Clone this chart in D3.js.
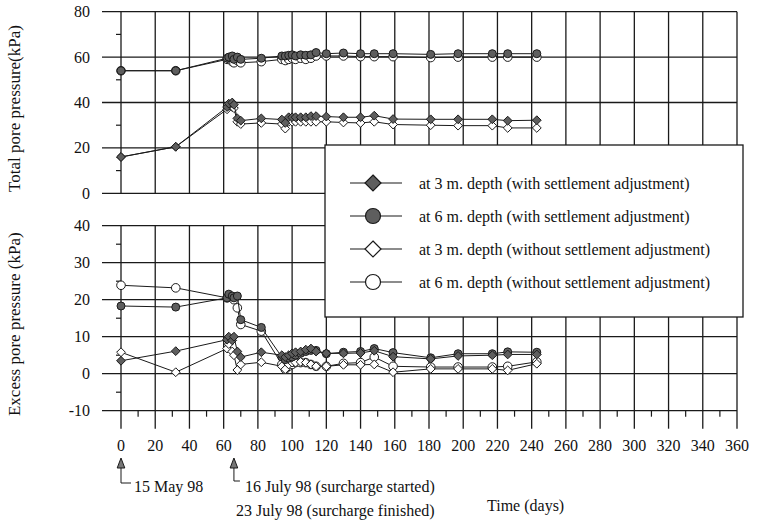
<!DOCTYPE html>
<html>
<head>
<meta charset="utf-8">
<script src="https://cdn.jsdelivr.net/npm/d3@7"></script>
<style>
  html, body { margin: 0; padding: 0; background: #fff; }
  svg { display: block; }
  text { font-family: "Liberation Serif", "Times New Roman", serif; fill: #111; }
</style>
</head>
<body>
<svg id="chart" width="762" height="524"></svg>
<script>
// Measurement days (days after 15 May 98)
const days = [0, 32, 62, 63, 65, 66, 68, 70, 82, 94, 96, 98, 100, 102, 105, 108, 111, 114, 120, 130, 140, 148, 159, 181, 197, 217, 226, 243];

// Total pore pressure (kPa)
const total3mWith    = [16, 20.5, 38, 39.5, 40, 39, 33, 32, 33, 32.5, 31, 33.5, 33.5, 33.5, 33.5, 33.5, 34, 34, 33.8, 33.5, 33.5, 34.2, 32.7, 32.6, 32.6, 32.6, 32, 32.2];
const total6mWith    = [54, 54, 59.5, 60, 60.5, 59, 60, 59, 59.5, 60.5, 60.5, 60.8, 61, 60.5, 61, 60.8, 61, 62, 61.5, 61.8, 61.5, 61.5, 61.5, 61.2, 61.5, 61.5, 61.5, 61.5];
const total3mWithout = [16, 20.5, 37, 38.5, 38, 37.5, 31.5, 30.5, 31, 30.5, 28.5, 31.5, 31.5, 31.5, 31.5, 31.5, 31.5, 31.5, 31.5, 31.2, 31, 31.5, 30.3, 30, 29.8, 29.8, 28.8, 28.8];
const total6mWithout = [54, 54, 59, 59.5, 58, 57.5, 58.5, 57.5, 58, 59, 58.5, 59, 59.5, 59, 59.5, 59, 59.5, 60.5, 60.5, 60.5, 60.2, 60.2, 60.2, 59.8, 60, 60, 60, 60];

// Excess pore pressure (kPa)
const excess3mWith    = [3.5, 6.1, 9.2, 10, 9, 10, 6, 4.5, 5.8, 5, 4.5, 5, 5.5, 5.8, 6, 6.5, 6.8, 6, 5.5, 5.5, 5.6, 6.2, 4.6, 4, 4.8, 5, 5.2, 5.2];
const excess6mWith    = [18.3, 18, 20.5, 21.5, 21, 20.5, 21, 14.6, 12.5, 4.5, 3.8, 4.2, 4.5, 5, 5.5, 6, 6.3, 6.3, 5.4, 5.8, 6, 6.8, 5.7, 4.3, 5.4, 5.4, 5.9, 5.8];
const excess3mWithout = [5.8, 0.4, 6.8, 8, 6, 5, 1, 2.5, 3.1, 2, 1.2, 2.5, 3, 3, 3.2, 3, 2.5, 2, 2, 2.4, 2.4, 2.5, 0.4, 1.3, 1.3, 1.3, 0.9, 2.7];
const excess6mWithout = [23.9, 23.2, 20.5, 21, 20.5, 20, 17.8, 13.3, 11.5, 2.5, 1.2, 2, 2.5, 3, 3, 3, 2.5, 2, 2, 2.8, 3, 4.5, 2, 1.8, 1.8, 1.8, 2, 3.2];

// Axis ticks
const xTicks = d3.range(0, 361, 20);
const xMinorTicks = d3.range(10, 360, 20);
const topTicks = [0, 20, 40, 60, 80];
const topMinorTicks = [10, 30, 50, 70];
const bottomTicks = [-10, 0, 10, 20, 30, 40];
const bottomMinorTicks = [-5, 5, 15, 25, 35];

const legendLabels = [
  "at 3 m. depth (with settlement adjustment)",
  "at 6 m. depth (with settlement adjustment)",
  "at 3 m. depth (without settlement adjustment)",
  "at 6 m. depth (without settlement adjustment)"
];

const svg = d3.select("#chart");
const INK = "#1a1a1a";
const GRAY = "#5e5e5e";

const x = d3.scaleLinear().domain([0, 360]).range([121, 737]);
const yTop = d3.scaleLinear().domain([0, 80]).range([193.3, 11.7]);
const yBot = d3.scaleLinear().domain([-10, 40]).range([410.7, 225.7]);

function panelGrid(y, ticks, minor, extendBottom) {
  const g = svg.append("g");
  const [y0, y1] = y.range();
  // horizontal grid lines with outward major ticks
  g.selectAll(".h").data(ticks).join("line")
    .attr("x1", x(0) - 19).attr("x2", x(360))
    .attr("y1", d => y(d)).attr("y2", d => y(d))
    .attr("stroke", INK).attr("stroke-width", 1.3);
  g.selectAll(".m").data(minor).join("line")
    .attr("x1", x(0) - 5).attr("x2", x(0))
    .attr("y1", d => y(d)).attr("y2", d => y(d))
    .attr("stroke", INK).attr("stroke-width", 1.2);
  // vertical grid lines
  g.selectAll(".v").data(xTicks).join("line")
    .attr("x1", d => x(d)).attr("x2", d => x(d))
    .attr("y1", y1).attr("y2", y0 + extendBottom)
    .attr("stroke", INK).attr("stroke-width", 1.3);
  // tick labels
  g.selectAll(".l").data(ticks).join("text")
    .attr("x", 90).attr("y", d => y(d) + 5.5)
    .attr("text-anchor", "end").attr("font-size", 16)
    .text(d => d);
  return g;
}

panelGrid(yTop, topTicks, topMinorTicks, 0);
const bottomGrid = panelGrid(yBot, bottomTicks, bottomMinorTicks, 18);
bottomGrid.selectAll(".xm").data(xMinorTicks).join("line")
  .attr("x1", d => x(d)).attr("x2", d => x(d))
  .attr("y1", yBot(-10)).attr("y2", yBot(-10) + 6)
  .attr("stroke", INK).attr("stroke-width", 1.2);

// x tick labels
svg.append("g").selectAll("text").data(xTicks).join("text")
  .attr("x", d => x(d)).attr("y", 451)
  .attr("text-anchor", "middle").attr("font-size", 16)
  .text(d => d);

// y axis titles
svg.append("text")
  .attr("transform", `translate(20,${(yTop(0) + yTop(80)) / 2 + 6}) rotate(-90)`)
  .attr("text-anchor", "middle").attr("font-size", 17)
  .text("Total pore pressure(kPa)");
svg.append("text")
  .attr("transform", `translate(20,${(yBot(-10) + yBot(40)) / 2 + 6}) rotate(-90)`)
  .attr("text-anchor", "middle").attr("font-size", 17)
  .text("Excess pore pressure (kPa)");

// series drawing
const diamond = s => `M0,${-s}L${s},0L0,${s}L${-s},0Z`;

function drawSeries(y, values, shape, filled) {
  const pts = days.map((d, i) => [x(d), y(values[i])]);
  const g = svg.append("g");
  g.append("path")
    .attr("d", d3.line()(pts))
    .attr("fill", "none").attr("stroke", INK).attr("stroke-width", 1);
  g.selectAll("g").data(pts).join("g")
    .attr("transform", p => `translate(${p[0]},${p[1]})`)
    .each(function () {
      const m = d3.select(this);
      if (shape === "diamond") {
        m.append("path").attr("d", diamond(4.4));
      } else {
        m.append("circle").attr("r", filled ? 4 : 4.3);
      }
      m.select("*")
        .attr("fill", filled ? GRAY : "#fff")
        .attr("stroke", INK).attr("stroke-width", 1);
    });
}

// unadjusted series first, adjusted series drawn on top
drawSeries(yTop, total6mWithout, "circle", false);
drawSeries(yTop, total3mWithout, "diamond", false);
drawSeries(yTop, total6mWith, "circle", true);
drawSeries(yTop, total3mWith, "diamond", true);

drawSeries(yBot, excess6mWithout, "circle", false);
drawSeries(yBot, excess3mWithout, "diamond", false);
drawSeries(yBot, excess6mWith, "circle", true);
drawSeries(yBot, excess3mWith, "diamond", true);

// legend
const lg = svg.append("g");
lg.append("rect")
  .attr("x", 325).attr("y", 145).attr("width", 418).attr("height", 172)
  .attr("fill", "#fff").attr("stroke", INK).attr("stroke-width", 1.3);
const legendShapes = [["diamond", true], ["circle", true], ["diamond", false], ["circle", false]];
const legendY = d3.scalePoint().domain(d3.range(4)).range([183, 282]);
legendLabels.forEach((label, i) => {
  const cy = legendY(i);
  lg.append("line").attr("x1", 350).attr("x2", 402).attr("y1", cy).attr("y2", cy)
    .attr("stroke", INK).attr("stroke-width", 1.2);
  const [shape, filled] = legendShapes[i];
  const mk = shape === "diamond"
    ? lg.append("path").attr("d", diamond(8)).attr("transform", `translate(373,${cy})`)
    : lg.append("circle").attr("cx", 373).attr("cy", cy).attr("r", 7.5);
  mk.attr("fill", filled ? GRAY : "#fff").attr("stroke", INK).attr("stroke-width", 1.2);
  lg.append("text").attr("x", 419).attr("y", cy + 5.5).attr("font-size", 16).text(label);
});

// event annotations below the time axis
const ann = svg.append("g");
const tri = `M0,-5L3.8,5L-3.8,5Z`;
[0, 66].forEach(d => {
  ann.append("path").attr("d", tri)
    .attr("transform", `translate(${x(d)},463)`)
    .attr("fill", "#777").attr("stroke", INK).attr("stroke-width", 1);
});
ann.append("path")
  .attr("d", `M${x(0)},468V483H${x(0) + 10}`)
  .attr("fill", "none").attr("stroke", INK).attr("stroke-width", 1);
ann.append("path")
  .attr("d", `M${x(66)},468V481H${x(66) + 6}`)
  .attr("fill", "none").attr("stroke", INK).attr("stroke-width", 1);
ann.append("text").attr("x", x(0) + 13).attr("y", 492).attr("font-size", 16).text("15 May 98");
ann.append("text").attr("x", x(66) + 11).attr("y", 492).attr("font-size", 16).text("16 July 98 (surcharge started)");
ann.append("text").attr("x", x(66) + 2).attr("y", 516).attr("font-size", 16).text("23 July 98 (surcharge finished)");
ann.append("text").attr("x", 487).attr("y", 511).attr("font-size", 16).text("Time (days)");
</script>
</body>
</html>
